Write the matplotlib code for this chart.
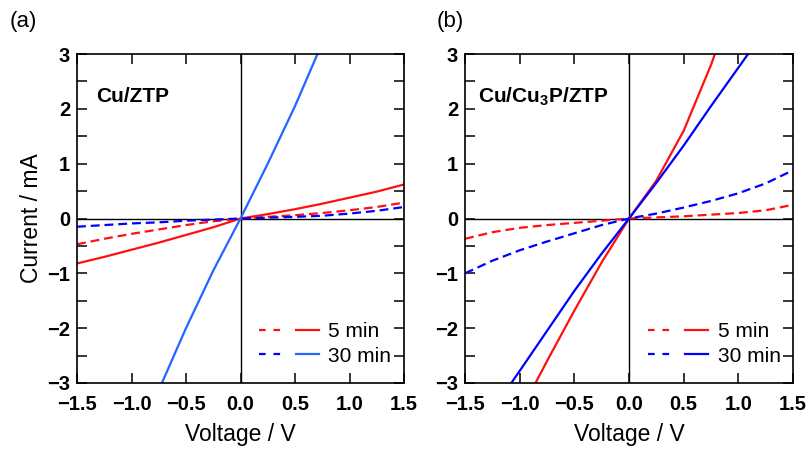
import matplotlib
matplotlib.use("Agg")
import matplotlib.pyplot as plt
from matplotlib.lines import Line2D
from matplotlib.legend_handler import HandlerTuple
from matplotlib.ticker import MultipleLocator

plt.rcParams['font.family'] = ['Liberation Sans', 'DejaVu Sans']

# ---------------- data ----------------
# Panel (a) Cu/ZTP
a_v_5d = [-1.5, -1.25, -1.0, -0.75, -0.5, -0.25, 0.0, 0.25, 0.5, 0.75, 1.0, 1.25, 1.5]
a_i_5d = [-0.47, -0.37, -0.28, -0.20, -0.12, -0.05, 0.0, 0.03, 0.06, 0.10, 0.15, 0.21, 0.29]
a_v_5s = [-1.5, -1.25, -1.0, -0.75, -0.5, -0.25, 0.0, 0.25, 0.5, 0.75, 1.0, 1.25, 1.5]
a_i_5s = [-0.82, -0.70, -0.57, -0.44, -0.30, -0.16, 0.0, 0.08, 0.17, 0.27, 0.38, 0.49, 0.62]
a_v_30d = [-1.5, -1.25, -1.0, -0.75, -0.5, -0.25, 0.0, 0.25, 0.5, 0.75, 1.0, 1.25, 1.5]
a_i_30d = [-0.15, -0.12, -0.09, -0.07, -0.04, -0.02, 0.0, 0.015, 0.03, 0.05, 0.09, 0.14, 0.21]
a_v_30s = [-0.75, -0.5, -0.25, 0.0, 0.25, 0.5, 0.75]
a_i_30s = [-3.13, -2.0, -0.95, 0.0, 1.0, 2.05, 3.2]

# Panel (b) Cu/Cu3P/ZTP
b_v_5d = [-1.5, -1.25, -1.0, -0.75, -0.5, -0.25, 0.0, 0.25, 0.5, 0.75, 1.0, 1.25, 1.5]
b_i_5d = [-0.37, -0.25, -0.17, -0.12, -0.08, -0.04, 0.0, 0.02, 0.04, 0.07, 0.10, 0.15, 0.25]
b_v_5s = [-1.0, -0.75, -0.5, -0.25, 0.0, 0.25, 0.5, 0.75, 1.0]
b_i_5s = [-3.55, -2.6, -1.68, -0.8, 0.0, 0.69, 1.6, 2.8, 4.2]
b_v_30d = [-1.5, -1.25, -1.0, -0.75, -0.5, -0.25, 0.0, 0.25, 0.5, 0.75, 1.0, 1.25, 1.5]
b_i_30d = [-1.0, -0.77, -0.58, -0.42, -0.27, -0.12, 0.0, 0.09, 0.20, 0.32, 0.46, 0.64, 0.88]
b_v_30s = [-1.25, -1.0, -0.75, -0.5, -0.25, 0.0, 0.25, 0.5, 0.75, 1.0, 1.25]
b_i_30s = [-3.5, -2.78, -2.05, -1.32, -0.64, 0.0, 0.65, 1.33, 2.05, 2.75, 3.45]

x_ticks = [-1.5, -1.0, -0.5, 0.0, 0.5, 1.0, 1.5]
x_ticklabels = ['\u22121.5', '\u22121.0', '\u22120.5', '0.0', '0.5', '1.0', '1.5']
y_ticks = [-3, -2, -1, 0, 1, 2, 3]
y_ticklabels = ['\u22123', '\u22122', '\u22121', '0', '1', '2', '3']
legend_labels = ['5 min', '30 min']

RED = '#FF1010'
BLUE = '#0000FF'
LBLUE = '#2266FF'

fig = plt.figure(figsize=(8.1, 4.5), dpi=100)
ax_a = fig.add_axes([77/810, 67/450, 327/810, 329/450])
ax_b = fig.add_axes([465/810, 67/450, 328/810, 329/450])

LW = 1.6
DASH = (4.0, 2.2)
LEG_DASH = (3.0, 3.5)


def style(ax):
    ax.set_xlim(-1.5, 1.5)
    ax.set_ylim(-3, 3)
    ax.set_xticks(x_ticks)
    ax.set_xticklabels(x_ticklabels)
    ax.set_yticks(y_ticks)
    ax.set_yticklabels(y_ticklabels)
    ax.yaxis.set_minor_locator(MultipleLocator(0.5))
    ax.tick_params(which='both', direction='in', top=True, right=True,
                   length=7, width=1.1, labelsize=14.5)
    ax.tick_params(axis='x', pad=9)
    ax.tick_params(axis='y', pad=5)
    for lab in ax.get_xticklabels() + ax.get_yticklabels():
        lab.set_fontweight('bold')
    for s in ax.spines.values():
        s.set_linewidth(1.2)
    ax.axhline(0, color='black', lw=1.0, zorder=1)
    ax.axvline(0, color='black', lw=1.0, zorder=1)
    ax.set_xlabel('Voltage / V', fontsize=16.5, labelpad=6)


def add_legend(ax, colors):
    c5d, c5s, c30d, c30s = colors
    p1 = Line2D([], [], color=c5d, lw=LW, dashes=LEG_DASH)
    p2 = Line2D([], [], color=c5s, lw=LW)
    p3 = Line2D([], [], color=c30d, lw=LW, dashes=LEG_DASH)
    p4 = Line2D([], [], color=c30s, lw=LW)
    leg = ax.legend([(p1, p2), (p3, p4)], legend_labels,
                    handler_map={tuple: HandlerTuple(ndivide=None, pad=0.72)},
                    loc='lower right', frameon=False, fontsize=15,
                    handlelength=2.9, handletextpad=0.45, labelspacing=0.25,
                    borderaxespad=0.2, bbox_to_anchor=(1.0, 0.015))
    return leg


# panel (a)
style(ax_a)
ax_a.plot(a_v_5d, a_i_5d, color=RED, lw=LW, dashes=DASH)
ax_a.plot(a_v_5s, a_i_5s, color=RED, lw=LW)
ax_a.plot(a_v_30d, a_i_30d, color=BLUE, lw=LW, dashes=DASH)
ax_a.plot(a_v_30s, a_i_30s, color=LBLUE, lw=LW)
add_legend(ax_a, [RED, RED, BLUE, LBLUE])
ax_a.text(0.06, 0.87, 'Cu/ZTP', transform=ax_a.transAxes, fontsize=15,
          fontweight='bold', va='center', ha='left')
ax_a.set_ylabel('Current / mA', fontsize=16.5, labelpad=3)

# panel (b)
style(ax_b)
ax_b.plot(b_v_5d, b_i_5d, color=RED, lw=LW, dashes=DASH)
ax_b.plot(b_v_5s, b_i_5s, color=RED, lw=LW)
ax_b.plot(b_v_30d, b_i_30d, color=BLUE, lw=LW, dashes=DASH)
ax_b.plot(b_v_30s, b_i_30s, color=BLUE, lw=LW)
add_legend(ax_b, [RED, RED, BLUE, BLUE])
ax_b.text(0.04, 0.87, 'Cu/Cu$_\\mathregular{3}$P/ZTP', transform=ax_b.transAxes,
          fontsize=15, fontweight='bold', va='center', ha='left')

fig.text(10/810, 1 - 22/450, '(a)', fontsize=16, va='center', ha='left')
fig.text(437/810, 1 - 22/450, '(b)', fontsize=16, va='center', ha='left')

fig.savefig('out.png', dpi=100)
